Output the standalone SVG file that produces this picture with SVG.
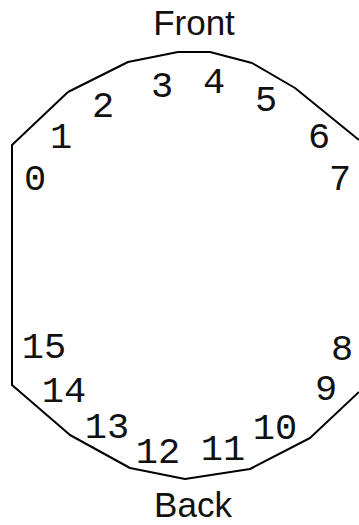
<svg xmlns="http://www.w3.org/2000/svg" width="359" height="525" viewBox="0 0 359 525">
<style>
.outline{fill:none;stroke:#000;stroke-width:2;stroke-linejoin:round}
.title{font-family:"Liberation Sans",Arial,sans-serif;font-size:35px;fill:#111;text-anchor:middle}
.num{font-family:"Liberation Mono","Courier New",monospace;font-size:37px;fill:#111;text-anchor:middle}
</style>
<rect width="359" height="525" fill="#fff"/>
<g id="outline">
<path class="outline" d="M68,92 L128,62 L178,52 L210,52 L252,63 L295,88 L359,140"/>
<path class="outline" d="M68,92 L12,145 L12,385 L70,435 L130,468 L185,479 L250,469 L310,438 L359,392"/>
</g>
<g id="titles">
<text id="front" class="title" x="194" y="35">Front</text>
<text id="back" class="title" x="193" y="517">Back</text>
</g>
<g id="labels">
<text class="num" x="35" y="190">0</text>
<text class="num" x="61" y="148">1</text>
<text class="num" x="103" y="117">2</text>
<text class="num" x="162" y="97">3</text>
<text class="num" x="214" y="93">4</text>
<text class="num" x="266" y="111">5</text>
<text class="num" x="319" y="148">6</text>
<text class="num" x="340" y="190">7</text>
<text class="num" x="342" y="360">8</text>
<text class="num" x="326" y="400">9</text>
<text class="num" x="275" y="439">10</text>
<text class="num" x="223" y="460">11</text>
<text class="num" x="158" y="463">12</text>
<text class="num" x="107" y="438">13</text>
<text class="num" x="64" y="402">14</text>
<text class="num" x="44" y="358">15</text>
</g>
</svg>
